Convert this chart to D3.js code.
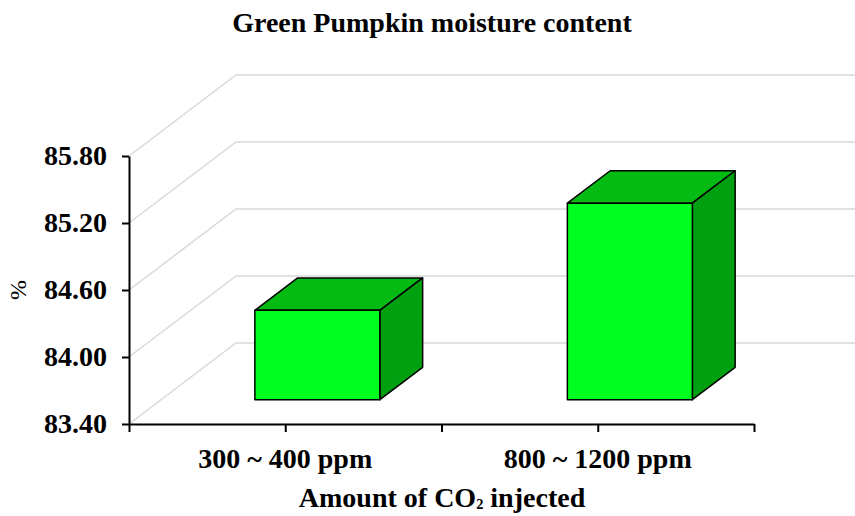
<!DOCTYPE html>
<html>
<head>
<meta charset="utf-8">
<script src="https://cdn.jsdelivr.net/npm/d3@7"></script>
<style>
  body { margin: 0; background: #fff; }
  text { font-family: "Times New Roman", "Liberation Serif", serif; fill: #000; }
</style>
</head>
<body>
<div id="chart"></div>
<script>
// data
var categories = ["300 ~ 400 ppm", "800 ~ 1200 ppm"];
var moisture = [84.20, 85.16];
var yTicks = [83.40, 84.00, 84.60, 85.20, 85.80];

var w = 855, h = 516;
var plotLeft = 129, plotRight = 754, plotTop = 156, plotBottom = 424;
var depthX = 107, depthY = -81;   // full floor depth
var barFront = 0.3, barDepth = 0.4;

var svg = d3.select("#chart").append("svg")
  .attr("width", w)
  .attr("height", h);

var x = d3.scaleBand().domain(categories).range([plotLeft, plotRight]);
var y = d3.scaleLinear().domain([83.4, 85.8]).range([plotBottom, plotTop]);

// gridlines on side wall + back wall
var grid = svg.append("g").attr("stroke", "#d9d9d9").attr("stroke-width", 1.5).attr("fill", "none");
yTicks.forEach(function(t) {
  grid.append("path")
    .attr("d", "M" + plotLeft + "," + y(t) +
               "L" + (plotLeft + depthX) + "," + (y(t) + depthY) +
               "L" + (plotRight + depthX) + "," + (y(t) + depthY));
});

// bars
var bw = x.bandwidth() * 0.4;
var ox = barFront * depthX, oy = barFront * depthY;
var dx = barDepth * depthX, dy = barDepth * depthY;

var bars = svg.append("g").attr("stroke", "#000").attr("stroke-width", 1.5).attr("stroke-linejoin", "round");
categories.forEach(function(c, i) {
  var x0 = x(c) + x.bandwidth() / 2 - bw / 2 + ox;
  var x1 = x0 + bw;
  var yt = y(moisture[i]) + oy;
  var yb = y(83.4) + oy;

  bars.append("path") // top
    .attr("fill", "#03bb13")
    .attr("d", "M" + x0 + "," + yt + "L" + (x0 + dx) + "," + (yt + dy) +
               "L" + (x1 + dx) + "," + (yt + dy) + "L" + x1 + "," + yt + "Z");
  bars.append("path") // side
    .attr("fill", "#00a010")
    .attr("d", "M" + x1 + "," + yt + "L" + (x1 + dx) + "," + (yt + dy) +
               "L" + (x1 + dx) + "," + (yb + dy) + "L" + x1 + "," + yb + "Z");
  bars.append("rect") // front
    .attr("fill", "#00ff21")
    .attr("x", x0).attr("y", yt)
    .attr("width", bw).attr("height", yb - yt);
});

// y axis
var yAxis = svg.append("g")
  .attr("transform", "translate(" + plotLeft + ",0)")
  .call(d3.axisLeft(y).tickValues(yTicks).tickFormat(d3.format(".2f")).tickSize(7).tickPadding(15).tickSizeOuter(0));
yAxis.select(".domain").attr("stroke-width", 2);
yAxis.selectAll(".tick line").attr("stroke-width", 2);
yAxis.selectAll("text").attr("font-size", 28).attr("font-weight", "bold").attr("font-family", null).attr("fill", "#000");

// x axis (ticks at boundaries and centres)
var xLin = d3.scaleLinear().domain([0, 2]).range([plotLeft, plotRight]);
var xAxis = svg.append("g")
  .attr("transform", "translate(0," + plotBottom + ")")
  .call(d3.axisBottom(xLin).tickValues([0, 0.5, 1, 1.5, 2]).tickFormat("").tickSize(8).tickSizeOuter(0));
xAxis.select(".domain").attr("stroke-width", 2);
xAxis.selectAll(".tick line").attr("stroke-width", 2);

svg.append("g").selectAll("text")
  .data(categories)
  .enter().append("text")
  .attr("x", function(d) { return x(d) + x.bandwidth() / 2; })
  .attr("y", 468)
  .attr("text-anchor", "middle")
  .attr("font-size", 28)
  .attr("font-weight", "bold")
  .text(function(d) { return d; });

// titles
svg.append("text")
  .attr("x", 432).attr("y", 32)
  .attr("text-anchor", "middle")
  .attr("font-size", 28).attr("font-weight", "bold")
  .text("Green Pumpkin moisture content");

var xt = svg.append("text")
  .attr("x", 442).attr("y", 507)
  .attr("text-anchor", "middle")
  .attr("font-size", 28).attr("font-weight", "bold");
xt.append("tspan").text("Amount of CO");
xt.append("tspan").attr("font-size", 24).attr("dy", -3).text("₂");
xt.append("tspan").attr("dy", 3).text(" injected");

svg.append("text")
  .attr("transform", "translate(26,290) rotate(-90)")
  .attr("text-anchor", "middle")
  .attr("font-size", 24)
  .text("%");
</script>
</body>
</html>
